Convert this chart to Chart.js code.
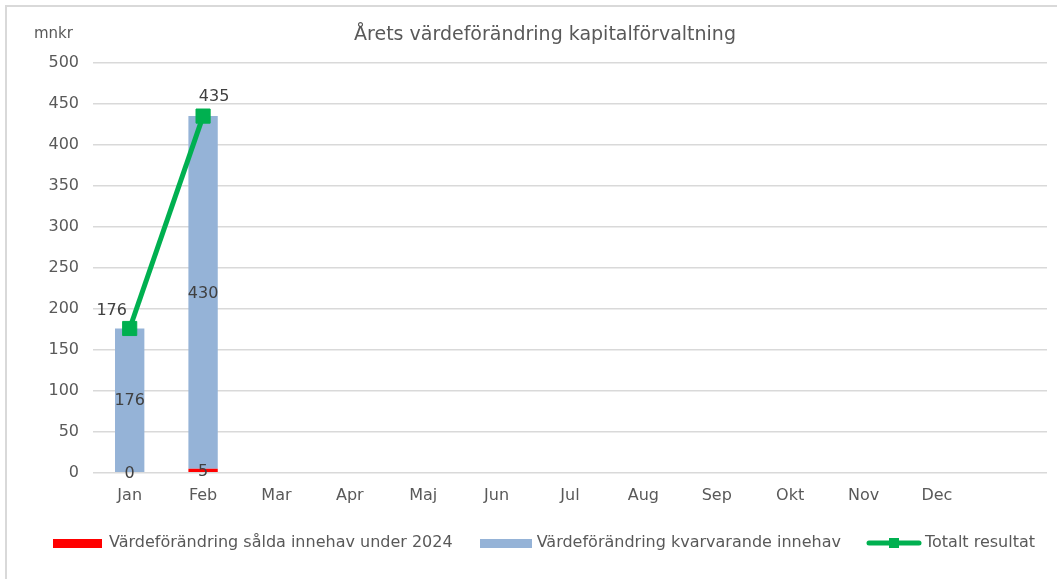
<!DOCTYPE html>
<html>
<head>
<meta charset="utf-8">
<script src="https://cdn.jsdelivr.net/npm/chart.js@4/dist/chart.umd.min.js"></script>
<style>
  html, body { margin:0; padding:0; background:#fff; overflow:hidden; }
  #wrap { position:absolute; left:-40px; top:0; width:1165px; height:579px; }
  #frame { position:absolute; left:5px; top:5px; width:1100px; height:600px; border:2px solid #d9d9d9; }
</style>
</head>
<body>
<div id="frame"></div>
<div id="wrap"><canvas id="chartVal"></canvas></div>
<script>
// månader (sista tom kategori som i originalet)
const months    = ["Jan","Feb","Mar","Apr","Maj","Jun","Jul","Aug","Sep","Okt","Nov","Dec",""];
const soldVals  = [0, 5];      // Värdeförändring sålda innehav under 2024
const keptVals  = [176, 430];  // Värdeförändring kvarvarande innehav
const totalVals = [176, 435];  // Totalt resultat
const yTicks    = [0,50,100,150,200,250,300,350,400,450,500];

const FONT = "'DejaVu Sans', Verdana, sans-serif";
const TXT  = "#595959";
const SHIFT = 40; // canvas ligger 40px till vänster om sidan

// legend-ikoner
function mkIcon(w, h, fn){
  let c = document.createElement("canvas");
  c.width = w; c.height = h;
  fn(c.getContext("2d"));
  return c;
}
const iconRed  = mkIcon(49, 9, g => { g.fillStyle = "#FF0000"; g.fillRect(0,0,49,9); });
const iconBlue = mkIcon(52, 9, g => { g.fillStyle = "#95B3D7"; g.fillRect(0,0,52,9); });
const iconLine = mkIcon(56, 12, g => {
  g.strokeStyle = "#00B050"; g.lineWidth = 5; g.lineCap = "round";
  g.beginPath(); g.moveTo(3,6); g.lineTo(53,6); g.stroke();
  g.fillStyle = "#00B050"; g.fillRect(23,1,10,10);
});

// dataetiketter
const labelPlugin = {
  id: "valLabels",
  afterDatasetsDraw(chart){
    const ctx = chart.ctx;
    ctx.save();
    ctx.font = "16px " + FONT;
    ctx.fillStyle = "#404040";
    ctx.textAlign = "center";
    ctx.textBaseline = "middle";
    [0,1].forEach(di => {
      chart.getDatasetMeta(di).data.forEach((bar, i) => {
        let v = chart.data.datasets[di].data[i];
        let cy = (bar.y + bar.base) / 2;
        ctx.fillText(String(v), bar.x, cy + 1);
      });
    });
    const offs = [[-18,-18],[11,-19]];
    chart.getDatasetMeta(2).data.forEach((pt, i) => {
      let o = offs[i] || [0,-18];
      ctx.fillText(String(chart.data.datasets[2].data[i]), pt.x + o[0], pt.y + o[1]);
    });
    // enhet
    ctx.fillStyle = TXT;
    ctx.textAlign = "left";
    ctx.font = "15px " + FONT;
    ctx.fillText("mnkr", 34 + SHIFT, 34);
    ctx.restore();
  }
};

const chartArea = document.getElementById("chartVal").getContext("2d");
const chartVal = new Chart(chartArea, {
  type: "bar",
  data: {
    labels: months,
    datasets: [
      {
        label: "Värdeförändring sålda innehav under 2024",
        data: soldVals,
        backgroundColor: "#FF0000",
        stack: "bars",
        categoryPercentage: 1,
        barPercentage: 0.4
      },
      {
        label: "Värdeförändring kvarvarande innehav",
        data: keptVals,
        backgroundColor: "#95B3D7",
        stack: "bars",
        categoryPercentage: 1,
        barPercentage: 0.4
      },
      {
        type: "line",
        label: "Totalt resultat",
        data: totalVals,
        borderColor: "#00B050",
        backgroundColor: "#00B050",
        borderWidth: 5,
        pointStyle: "rect",
        pointRadius: 10,
        pointBorderWidth: 1,
        pointHoverRadius: 10,
        stack: "total",
        order: -1
      }
    ]
  },
  options: {
    responsive: true,
    maintainAspectRatio: false,
    animation: false,
    layout: { padding: { left: 5, right: 0, top: 12, bottom: 18 } },
    plugins: {
      tooltip: { enabled: false },
      title: {
        display: true,
        text: "Årets värdeförändring kapitalförvaltning",
        color: TXT,
        font: { family: FONT, size: 19, weight: "normal" },
        padding: { top: 12, bottom: 16 }
      },
      legend: {
        position: "bottom",
        labels: {
          color: TXT,
          font: { family: FONT, size: 16 },
          usePointStyle: true,
          pointStyleWidth: 46,
          boxHeight: 12,
          padding: 30,
          generateLabels(chart){
            const icons = [iconRed, iconBlue, iconLine];
            return chart.data.datasets.map((ds, i) => ({
              text: ds.label,
              pointStyle: icons[i],
              fontColor: TXT,
              datasetIndex: i,
              hidden: false,
              lineWidth: 0
            }));
          }
        }
      }
    },
    scales: {
      x: {
        stacked: true,
        grid: { display: false },
        border: { display: false },
        afterFit(scale){ scale.height -= 5; },
        ticks: { color: TXT, font: { family: FONT, size: 16 }, padding: 5, maxRotation: 0 }
      },
      y: {
        stacked: true,
        min: 0,
        max: 500,
        afterBuildTicks(scale){ scale.ticks = yTicks.map(v => ({ value: v })); },
        afterFit(scale){ scale.width = 128; },
        grid: { color: "#d9d9d9", lineWidth: 1.5, drawTicks: false },
        border: { display: false },
        ticks: { color: TXT, font: { family: FONT, size: 16 }, padding: 14 }
      },
      yR: {
        position: "right",
        grid: { display: false },
        border: { display: false },
        ticks: { display: false },
        afterFit(scale){ scale.width = 78; }
      }
    }
  },
  plugins: [labelPlugin]
});
</script>
</body>
</html>
